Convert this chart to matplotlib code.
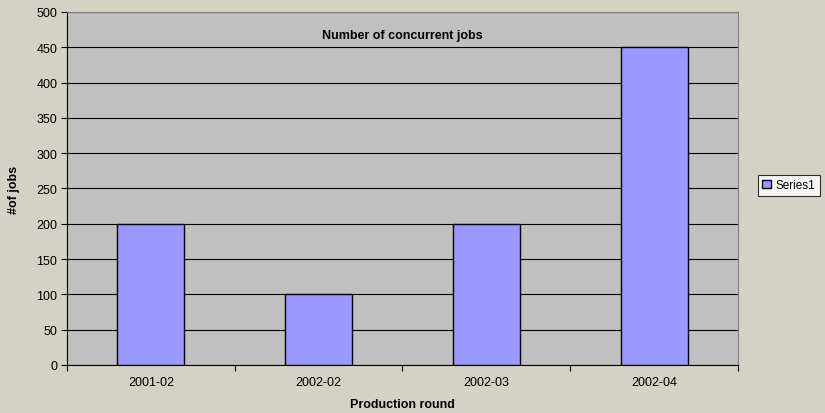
import numpy as np
import matplotlib.pyplot as plt

plt.rcParams['font.family'] = ['Liberation Sans', 'DejaVu Sans']

rounds = ["2001-02", "2002-02", "2002-03", "2002-04"]
jobs = [200, 100, 200, 450]

fig = plt.figure(figsize=(8.25, 4.14), dpi=100)
fig.patch.set_facecolor('#d4d2c4')
ax = fig.add_axes([0.0812, 0.1162, 0.8133, 0.8524])
ax.set_facecolor('#c0c0c0')

x = np.arange(len(rounds))
ax.bar(x, jobs, width=0.4, color='#9999ff', edgecolor='black', linewidth=1.0,
       label='Series1', zorder=3)

ax.set_ylim(0, 500)
ax.set_yticks(np.arange(0, 501, 50))
ax.yaxis.grid(True, color='black', linewidth=0.8, zorder=1)
ax.set_xlim(-0.5, len(rounds) - 0.5)

# category boundaries get the tick marks, labels sit in the middle
ax.set_xticks(np.arange(-0.5, len(rounds), 1.0))
ax.set_xticklabels([])
ax.set_xticks(x, minor=True)
ax.set_xticklabels(rounds, minor=True)
ax.tick_params(axis='x', which='minor', length=0, pad=8, labelsize=9)
ax.tick_params(axis='x', which='major', length=4, direction='out', color='black')
ax.tick_params(axis='y', length=4, direction='out', labelsize=9, pad=3)

for s in ['top', 'right']:
    ax.spines[s].set_color('#808080')
for s in ['left', 'bottom']:
    ax.spines[s].set_color('black')

ax.text(0.5, 0.935, "Number of concurrent jobs", transform=ax.transAxes,
        ha='center', va='center', fontsize=9, fontweight='bold')
ax.set_xlabel("Production round", fontsize=9, fontweight='bold', labelpad=7)
ax.set_ylabel("#of jobs", fontsize=9, fontweight='bold', labelpad=12)

leg = fig.legend(loc='center', bbox_to_anchor=(0.956, 0.55), fontsize=8.5,
                 frameon=True, fancybox=False, handlelength=0.7, handleheight=0.7,
                 handletextpad=0.4, borderpad=0.4, borderaxespad=0)
leg.get_frame().set_edgecolor('black')
leg.get_frame().set_facecolor('white')
leg.get_frame().set_linewidth(0.8)

fig.savefig("out.png", dpi=100, facecolor=fig.get_facecolor())
